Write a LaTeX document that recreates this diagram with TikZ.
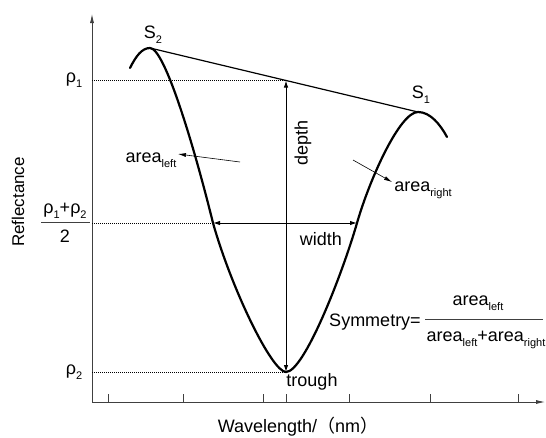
\documentclass[tikz,border=0pt]{standalone}
\usepackage{fontspec}
\setmainfont{Liberation Sans}
\newfontfamily\cjk{Noto Sans CJK SC}
\usetikzlibrary{arrows.meta}
\newcommand{\lo}[1]{\raisebox{-0.5ex}{\fontsize{11}{11}\selectfont #1}}
\tikzset{
  axis/.style={line width=0.8pt, black!75},
  curve/.style={line width=2.2pt, line join=round, line cap=round},
  guide/.style={densely dotted, line width=1pt},
  dim/.style={line width=1pt, {Latex[length=7pt,width=4.5pt]}-{Latex[length=7pt,width=4.5pt]}},
  pointer/.style={line width=0.6pt, -{Latex[length=8pt,width=4pt]}},
  lbl/.style={font=\fontsize{18}{20}\selectfont, inner sep=0pt},
}
\begin{document}
\begin{tikzpicture}[x=1pt,y=-1pt]
\useasboundingbox (0,0) rectangle (546,437);
% axes
\coordinate (O) at (92,402);\coordinate (ytop) at (92,14);\coordinate (xend) at (545,402);
\draw [axis,-{Latex[length=9pt,width=4pt]}] (O) -- (ytop);
\draw [axis,-{Latex[length=9pt,width=4pt]}] (O) -- (xend);
\foreach \t in {108,183,263,286,349,430,518} \draw [axis] (\t,402) -- (\t,394);
% points
\coordinate (S2) at (150,48);\coordinate (S1) at (418,112);
\coordinate (trough) at (286,372);\coordinate (top) at (286,80.5);
\coordinate (wl) at (213,223);\coordinate (wr) at (357,223);
\coordinate (r1) at (92,80.5);\coordinate (rm) at (92,223);\coordinate (r2) at (92,372);
\coordinate (c0) at (130,68);\coordinate (c9) at (447,137);
% curve
\draw [curve] (c0) .. controls (136,56) and (142,48) .. (S2)
  .. controls (165,48) and (195,150) .. (wl)
  .. controls (232,290) and (272,372) .. (trough)
  .. controls (304,372) and (342,275) .. (wr)
  .. controls (370,178) and (400,112) .. (S1)
  .. controls (430,112) and (440,124) .. (c9);
\draw [line width=1.2pt] (S2) -- (S1);
% dotted lines
\draw [guide] (r1) -- (top);\draw [guide] (rm) -- (wl);\draw [guide] (r2) -- (trough);
% depth and width
\draw [dim] (top) -- (trough);
\draw [dim] (wl) -- (wr);
% lecter
\node [lbl] (rho1) at (74,80) {ρ\lo{1}};
\node [lbl] (rho2) at (74,372) {ρ\lo{2}};
\node [lbl] (num) at (65,211) {ρ\lo{1}+ρ\lo{2}};
\node [lbl] (two) at (65,236) {2};
\coordinate (fl) at (41,222);\coordinate (fr) at (90,222);
\draw [axis] (fl) -- (fr);
\node [lbl, rotate=90, font=\fontsize{17}{20}\selectfont] (refl) at (18,202) {Reflectance};
\node [lbl] (wave) at (298,427) {Wavelength/{\cjk （}nm{\cjk ）}};
\node [lbl] (s2) at (153,35) {S\lo{2}};
\node [lbl] (s1) at (421,95) {S\lo{1}};
\node [lbl, rotate=90] (depth) at (303,143) {depth};
\node [lbl] (width) at (321,239) {width};
\node [lbl] (tr) at (312,382) {trough};
\node [lbl] (aleft) at (151,160) {area\lo{left}};
\node [lbl] (aright) at (423,190) {area\lo{right}};
\coordinate (al0) at (240,162);\coordinate (al1) at (178,154);
\draw [pointer] (al0) -- (al1);
\coordinate (ar0) at (353,160);\coordinate (ar1) at (392,182);
\draw [pointer] (ar0) -- (ar1);
% symmetry
\node [lbl] (sym) at (375,322) {Symmetry=};
\node [lbl] (snum) at (478,303) {area\lo{left}};
\node [lbl] (sden) at (486,340) {area\lo{left}+area\lo{right}};
\coordinate (sl) at (425,319);\coordinate (sr) at (543,319);
\draw [axis] (sl) -- (sr);
\end{tikzpicture}
\end{document}
